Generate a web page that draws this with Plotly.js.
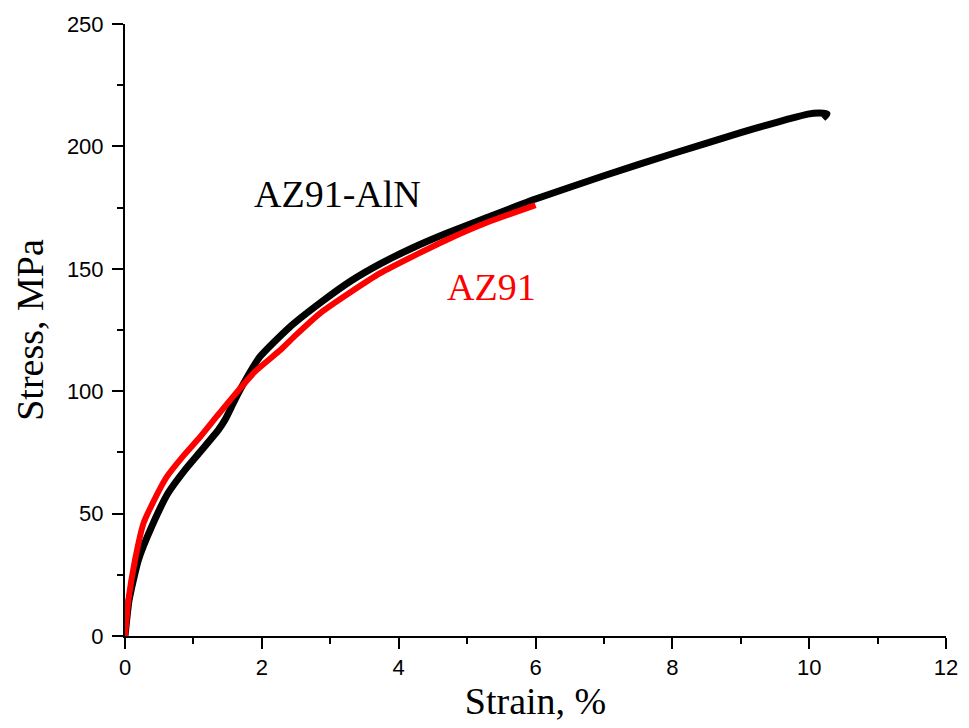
<!DOCTYPE html>
<html>
<head>
<meta charset="utf-8">
<script src="https://cdn.plot.ly/plotly-3.0.1.min.js"></script>
<style>html,body{margin:0;padding:0;background:#fff;}#chart{width:969px;height:728px;}</style>
</head>
<body>
<div id="chart"></div>
<script>
const alnStrain = [0, 0.06, 0.195, 0.39, 0.63, 0.88, 1.10, 1.36, 1.46, 1.58, 1.68, 1.97, 2.4, 2.85, 3.3, 3.73, 4.2, 4.7, 5.3, 6.0, 7.0, 8.0, 9.0, 9.38, 9.7, 9.98, 10.15, 10.26, 10.2];
const alnStress = [0, 14.7, 31, 44.7, 58.4, 68, 75.3, 84, 88.2, 95, 100.5, 114, 126, 136, 145, 152, 158.5, 164.5, 171, 178.5, 188, 197, 205.6, 208.7, 211.2, 213.2, 213.6, 213.3, 211.5];
const az91Strain = [0, 0.05, 0.146, 0.27, 0.365, 0.61, 0.85, 1.10, 1.35, 1.58, 1.9, 2.27, 2.5, 2.85, 3.3, 3.73, 4.2, 4.7, 5.3, 6.0];
const az91Stress = [0, 14.7, 31, 46, 52, 65, 73.5, 81.4, 90, 97.8, 108, 116.8, 123, 131.8, 140.5, 148.2, 155, 161.8, 169, 176];
const xTicks = [0, 2, 4, 6, 8, 10, 12];
const yTicks = [0, 50, 100, 150, 200, 250];

const traces = [
  {x: alnStrain, y: alnStress, mode: 'lines', name: 'AZ91-AlN', line: {color: '#000000', width: 7, shape: 'spline', smoothing: 0.5}},
  {x: az91Strain, y: az91Stress, mode: 'lines', name: 'AZ91', line: {color: '#ff0000', width: 6, shape: 'spline', smoothing: 0.5}}
];

const tickFont = {family: 'Liberation Sans, Arial', size: 22, color: '#000'};
const titleFont = {family: 'Liberation Serif, Times New Roman', size: 38, color: '#000'};

const layout = {
  width: 969, height: 728,
  margin: {l: 125, r: 23, t: 24, b: 92},
  paper_bgcolor: '#fff', plot_bgcolor: '#fff',
  showlegend: false,
  xaxis: {
    range: [0, 12], tickvals: xTicks, ticktext: xTicks.map(String),
    showgrid: false, zeroline: false, showline: true, linecolor: '#000', linewidth: 2,
    ticks: 'outside', ticklen: 11, tickwidth: 2, tickcolor: '#000',
    minor: {dtick: 1, tick0: 0, ticks: 'outside', ticklen: 6, tickwidth: 2, tickcolor: '#000', showgrid: false},
    tickfont: tickFont,
    title: {text: 'Strain, %', font: titleFont, standoff: 0}
  },
  yaxis: {
    range: [0, 250], tickvals: yTicks, ticktext: yTicks.map(String),
    showgrid: false, zeroline: false, showline: true, linecolor: '#000', linewidth: 2,
    ticks: 'outside', ticklen: 11, tickwidth: 2, tickcolor: '#000', ticklabelstandoff: 4,
    minor: {dtick: 25, tick0: 0, ticks: 'outside', ticklen: 6, tickwidth: 2, tickcolor: '#000', showgrid: false},
    tickfont: tickFont,
    title: {text: 'Stress, MPa', font: titleFont, standoff: 12}
  },
  annotations: [
    {x: 3.105, y: 180.5, xref: 'x', yref: 'y', text: 'AZ91-AlN', showarrow: false, xanchor: 'center', yanchor: 'middle',
     font: {family: 'Liberation Serif, Times New Roman', size: 38, color: '#000'}},
    {x: 5.35, y: 142.5, xref: 'x', yref: 'y', text: 'AZ91', showarrow: false, xanchor: 'center', yanchor: 'middle',
     font: {family: 'Liberation Serif, Times New Roman', size: 38, color: '#ff0000'}}
  ]
};

Plotly.newPlot('chart', traces, layout, {displayModeBar: false, staticPlot: true});
</script>
</body>
</html>
